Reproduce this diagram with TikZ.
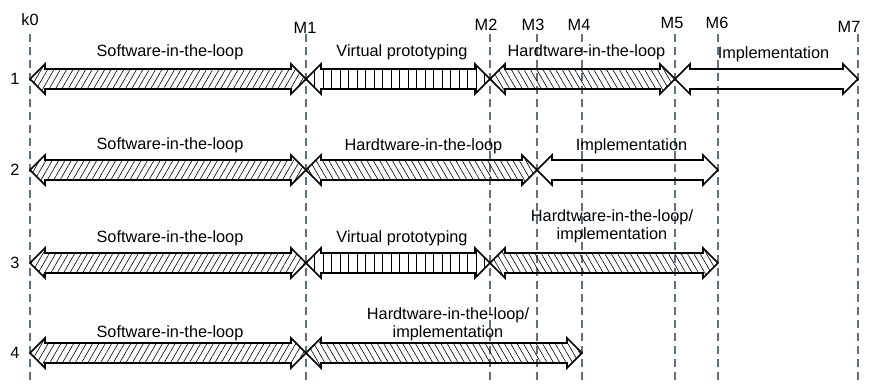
\documentclass[tikz,border=0pt]{standalone}
\usepackage{fontspec}
\setmainfont{Liberation Sans}
\usetikzlibrary{calc,patterns.meta}
\definecolor{msgray}{HTML}{63717F}

\newcommand\phase[4]{%
	\draw[#4] let \p1=(#1|-#3), \p2=(#2|-#3) in
		(\x1,\y1) -- (\x1+15pt,\y1+15pt) -- (\x1+15pt,\y1+10pt) -- (\x2-15pt,\y1+10pt)
		-- (\x2-15pt,\y1+15pt) -- (\x2,\y1) -- (\x2-15pt,\y1-15pt) -- (\x2-15pt,\y1-10pt)
		-- (\x1+15pt,\y1-10pt) -- (\x1+15pt,\y1-15pt) -- cycle;}

\begin{document}
\begin{tikzpicture}[x=1pt,y=1pt,font=\fontsize{16.3}{18}\selectfont]
		\tikzstyle{milestone}=[draw=msgray,line width=1.8pt,dash pattern=on 8pt off 5pt]
		\tikzstyle{phase}=[draw=black,line width=1.6pt,line join=miter]
		\tikzstyle{sil}=[phase,pattern={Lines[angle=60,distance=5.5pt,line width=0.6pt]}]
		\tikzstyle{hil}=[phase,pattern={Lines[angle=120,distance=5.5pt,line width=0.6pt]}]
		\tikzstyle{vp}=[phase,pattern={Lines[angle=90,distance=8.5pt,line width=0.6pt]}]
		\tikzstyle{impl}=[phase]
		\tikzstyle{lbl}=[anchor=base,inner sep=0pt]
		\tikzstyle{lbl2}=[lbl,align=center]

		\useasboundingbox (0,0) rectangle (869,383);

		\coordinate (r1) at (0,304);
		\coordinate (r2) at (0,213);
		\coordinate (r3) at (0,120);
		\coordinate (r4) at (0,30);

		\foreach \m/\x/\lx/\ly in {k0/30/30/363,M1/306/305/355,M2/490/486/358,M3/537/533/358,M4/582/579/358,M5/675/672/360,M6/718/717/360,M7/858/849/356}{
			\coordinate (\m) at (\x,349);
			\draw[milestone] (\m) -- (\x,0);
			\node (\m-txt) at (\lx,\ly) {\m};
		}

		\node (row1) at (15,304) {1};
		\node (row2) at (15,213) {2};
		\node (row3) at (15,120) {3};
		\node (row4) at (15,30) {4};

		\phase{k0}{M1}{r1}{sil}
		\phase{M1}{M2}{r1}{vp}
		\phase{M2}{M5}{r1}{hil}
		\phase{M5}{M7}{r1}{impl}

		\phase{k0}{M1}{r2}{sil}
		\phase{M1}{M3}{r2}{hil}
		\phase{M3}{M6}{r2}{impl}

		\phase{k0}{M1}{r3}{sil}
		\phase{M1}{M2}{r3}{vp}
		\phase{M2}{M6}{r3}{hil}

		\phase{k0}{M1}{r4}{sil}
		\phase{M1}{M4}{r4}{hil}

		\node[lbl] (sil1) at ($(k0|-r1)!.5!(M1|-r1)+(2,22)$) {Software-in-the-loop};
		\node[lbl] (vp1) at ($(M1|-r1)!.5!(M2|-r1)+(4,22)$) {Virtual prototyping};
		\node[lbl] (hil1) at ($(M2|-r1)!.5!(M5|-r1)+(4,22)$) {Hardtware-in-the-loop};
		\node[lbl] (impl1) at ($(M5|-r1)!.5!(M7|-r1)+(7,20)$) {Implementation};

		\node[lbl] (sil2) at ($(k0|-r2)!.5!(M1|-r2)+(2,20)$) {Software-in-the-loop};
		\node[lbl] (hil2) at ($(M1|-r2)!.5!(M3|-r2)+(2,19)$) {Hardtware-in-the-loop};
		\node[lbl] (impl2) at ($(M3|-r2)!.5!(M6|-r2)+(4,19)$) {Implementation};

		\node[lbl] (sil3) at ($(k0|-r3)!.5!(M1|-r3)+(2,20)$) {Software-in-the-loop};
		\node[lbl] (vp3) at ($(M1|-r3)!.5!(M2|-r3)+(4,20)$) {Virtual prototyping};
		\node[lbl2] (hil3) at ($(M2|-r3)!.5!(M6|-r3)+(8,23)$) {Hardtware-in-the-loop/\\implementation};

		\node[lbl] (sil4) at ($(k0|-r4)!.5!(M1|-r4)+(2,16)$) {Software-in-the-loop};
		\node[lbl2] (hil4) at ($(M1|-r4)!.5!(M4|-r4)+(4,16)$) {Hardtware-in-the-loop/\\implementation};
	\end{tikzpicture}
\end{document}
